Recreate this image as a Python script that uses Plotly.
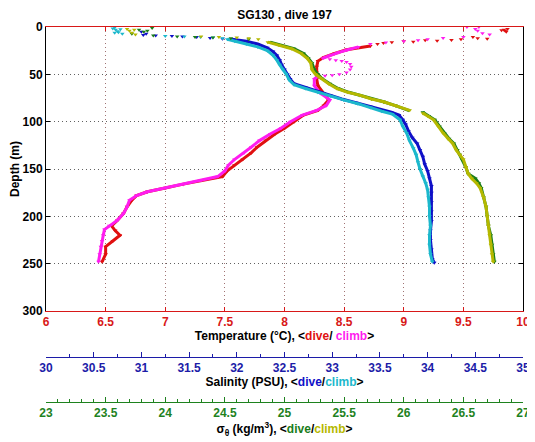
import plotly.graph_objects as go

# ---------------- data ----------------
# Temperature (degC) vs depth (m)
temp_dive_depth = [20, 24, 28, 32, 36, 42, 48, 55, 62, 70, 77, 83, 88, 93, 100, 107, 113,
                   120, 127, 133, 140, 146, 152, 158, 162, 166, 170, 174, 178, 183, 190, 197, 204, 210,
                   215, 220, 226, 232, 240, 248]
temp_dive_val = [8.72, 8.52, 8.42, 8.33, 8.28, 8.27, 8.27, 8.27, 8.28, 8.33, 8.37,
                 8.33, 8.28, 8.16, 8.08, 8.0, 7.92, 7.84, 7.77, 7.72, 7.65, 7.58, 7.52, 7.48, 7.3, 7.15,
                 7.0, 6.85, 6.76, 6.72, 6.68, 6.65, 6.6, 6.55, 6.58, 6.62, 6.56, 6.5, 6.5, 6.47]
temp_dive_dots_depth = [2, 3, 4, 5, 3.5, 10.5, 12, 13, 13.7, 14.5, 15.5, 15, 16, 17, 18, 12.5, 14]
temp_dive_dots_val = [9.87, 9.84, 9.85, 9.86, 9.82, 9.58, 9.62, 9.48, 9.4, 9.28, 9.08, 9.0, 8.9, 8.83,
                      8.78, 9.7, 9.18]

temp_climb_depth = [248, 240, 232, 226, 220, 214, 210, 204, 197, 190, 183, 178, 174, 170, 166, 162, 158,
                    152, 146, 140, 133, 127, 120, 113, 107, 100, 93, 88, 83, 77, 70, 62, 55, 52, None,
                    33, 30, 27, 24, 21]
temp_climb_val = [6.44, 6.45, 6.46, 6.47, 6.48, 6.49, 6.53, 6.6, 6.65, 6.68, 6.7, 6.76, 6.85, 7.0, 7.15,
                  7.3, 7.44, 7.5, 7.53, 7.58, 7.66, 7.72, 7.79, 7.88, 7.97, 8.05, 8.15, 8.27, 8.35, 8.38,
                  8.3, 8.25, 8.25, 8.28, None, 8.32, 8.38, 8.45, 8.53, 8.62]
temp_climb_dots_depth = [0, 0, 2, 4, 6.5, 8, 10.5, 11.6, 13, 14, 15, 16.5, 18, 34, 35, 36, 37, 39, 42,
                         45, 48, 50, 51, 51.5]
temp_climb_dots_val = [9.53, 9.63, 9.6, 9.62, 9.66, 9.72, 9.5, 9.33, 9.2, 9.12, 9.0, 8.85, 8.72, 8.38,
                       8.43, 8.48, 8.52, 8.55, 8.56, 8.55, 8.52, 8.46, 8.4, 8.34]

# Salinity (PSU) vs depth (m)
sal_dive_depth = [13, 15, 18, 22, 26, 30, 35, 40, 45, 50, 55, 60, 64, 68, 72, 76, 80, 84, 88, 90, 93, 98,
                  103, 110, 117, 123, 130, 137, 145, 152, 160, 168, 175, 185, 195, 205, 215, 225, 235,
                  245, 249]
sal_dive_val = [31.95, 32.1, 32.22, 32.32, 32.38, 32.42, 32.45, 32.47, 32.5, 32.53, 32.56, 32.6, 32.72,
                32.85, 32.98, 33.1, 33.25, 33.4, 33.52, 33.62, 33.7, 33.74, 33.77, 33.8, 33.84, 33.89,
                33.92, 33.95, 33.97, 34.0, 34.02, 34.04, 34.04, 34.04, 34.04, 34.04, 34.03, 34.03, 34.04,
                34.05, 34.07]
sal_dive_dots_depth = [5, 7, 8.5, 9, 9.5, 10, 10.5, 11.5, 12.5]
sal_dive_dots_val = [31.0, 31.05, 31.02, 31.15, 31.32, 31.43, 31.58, 31.72, 31.85]

sal_climb_depth = [248, 240, 230, 220, 210, 200, 190, 180, 172, 165, 158, 150, 143, 135, 128, 120, 112,
                   105, 98, 92, 89, 85, 81, 77, 73, 69, 65, 61, 56, 50, 45, 40, 35, 30, 25, 21, 18, 15, 13]
sal_climb_val = [34.05, 34.03, 34.02, 34.02, 34.03, 34.02, 34.02, 34.01, 34.0, 33.98, 33.95, 33.92,
                 33.9, 33.88, 33.85, 33.81, 33.78, 33.74, 33.71, 33.63, 33.52, 33.4, 33.27, 33.12, 32.98,
                 32.85, 32.72, 32.6, 32.55, 32.52, 32.48, 32.45, 32.42, 32.38, 32.32, 32.22, 32.1,
                 31.98, 31.9]
sal_climb_dots_depth = [0.5, 1.5, 3, 4.5, 6, 7, 2.5, 5.5, 9.5, 10, 10.5, 11, 12]
sal_climb_dots_val = [30.72, 30.7, 30.73, 30.75, 30.72, 30.8, 30.78, 30.76, 31.25, 31.45, 31.62, 31.75,
                      31.85]

# Potential density sigma-theta (kg/m3) vs depth (m)
sig_dive_depth = [16, 19, 23, 28, 33, 38, 45, 50, 54, 60, 65, 69, 72, 76, 79, 83, 88, None, 90, 94, 98,
                  105, 112, 118, 123, 130, 135, 140, 148, 155, 160, 165, 170, 180, 190, 200, 210, 220,
                  230, 240, 248]
sig_dive_val = [24.88, 24.96, 25.08, 25.16, 25.2, 25.23, 25.25, 25.28, 25.31, 25.38, 25.45, 25.54, 25.63,
                25.73, 25.83, 25.93, 26.04, None, 26.16, 26.21, 26.26, 26.3, 26.34, 26.38, 26.42, 26.45,
                26.47, 26.49, 26.52, 26.54, 26.6, 26.63, 26.65, 26.67, 26.69, 26.7, 26.71, 26.73, 26.74,
                26.75, 26.76]
sig_dive_dots_depth = [1, 3, 5, 7, 4, 9, 10, 10.5, 11, 12, 13]
sig_dive_dots_val = [23.89, 23.78, 23.82, 23.72, 23.85, 23.9, 24.1, 24.25, 24.4, 24.55, 24.7]

sig_climb_depth = [248, 240, 230, 220, 210, 200, 190, 180, 170, 165, 160, 155, 148, 140, 135, 130, 123,
                   118, 112, 105, 98, 94, 91, None, 88, 83, 79, 76, 72, 69, 65, 60, 54, 50, 45, 38, 33,
                   28, 23, 19, 16]
sig_climb_val = [26.75, 26.74, 26.73, 26.72, 26.71, 26.7, 26.69, 26.67, 26.64, 26.61, 26.57, 26.54,
                 26.52, 26.5, 26.47, 26.44, 26.41, 26.37, 26.33, 26.29, 26.25, 26.2, 26.16, None, 26.05,
                 25.93, 25.83, 25.73, 25.63, 25.53, 25.44, 25.37, 25.3, 25.26, 25.23, 25.22, 25.19,
                 25.14, 25.06, 24.95, 24.86]
sig_climb_dots_depth = [2, 4, 6, 8, 3, 10, 10.5, 11, 12, 13]
sig_climb_dots_val = [23.68, 23.7, 23.72, 23.75, 23.74, 24.3, 24.45, 24.6, 24.7, 24.78]

temp_ticks = [6, 6.5, 7, 7.5, 8, 8.5, 9, 9.5, 10]
sal_ticks = [30, 30.5, 31, 31.5, 32, 32.5, 33, 33.5, 34, 34.5, 35]
sig_ticks = [23, 23.5, 24, 24.5, 25, 25.5, 26, 26.5, 27]
depth_ticks = [0, 50, 100, 150, 200, 250, 300]

# ---------------- styling ----------------
FONT = "Liberation Sans"
RED = "#e01010"
MAGENTA = "#ff1cf0"
BLUE = "#1010c8"
CYAN = "#1cb8cc"
GREEN = "#1a7d1a"
YELLOW = "#b5b800"
AX_RED = "#d81818"
AX_BLUE = "#1c1ca8"
AX_GREEN = "#1e821e"

fig = go.Figure()


def add_profile(depth, val, color, xaxis):
    fig.add_trace(go.Scatter(x=val, y=depth, mode="lines+markers", xaxis=xaxis, yaxis="y",
                             line=dict(color=color, width=3),
                             marker=dict(color=color, size=4, symbol="triangle-down"),
                             connectgaps=False, showlegend=False, hoverinfo="skip"))


def add_dots(depth, val, color, xaxis):
    fig.add_trace(go.Scatter(x=val, y=depth, mode="markers", xaxis=xaxis, yaxis="y",
                             marker=dict(color=color, size=4, symbol="triangle-down"),
                             showlegend=False, hoverinfo="skip"))


add_profile(sal_dive_depth, sal_dive_val, BLUE, "x2")
add_dots(sal_dive_dots_depth, sal_dive_dots_val, BLUE, "x2")
add_profile(sal_climb_depth, sal_climb_val, CYAN, "x2")
add_dots(sal_climb_dots_depth, sal_climb_dots_val, CYAN, "x2")

add_profile(sig_dive_depth, sig_dive_val, GREEN, "x3")
add_dots(sig_dive_dots_depth, sig_dive_dots_val, GREEN, "x3")
add_profile(sig_climb_depth, sig_climb_val, YELLOW, "x3")
add_dots(sig_climb_dots_depth, sig_climb_dots_val, YELLOW, "x3")

add_profile(temp_dive_depth, temp_dive_val, RED, "x")
add_dots(temp_dive_dots_depth, temp_dive_dots_val, RED, "x")
add_profile(temp_climb_depth, temp_climb_val, MAGENTA, "x")
add_dots(temp_climb_dots_depth, temp_climb_dots_val, MAGENTA, "x")

# page body adds an 8px margin; the figure is sized to fit the window
OFF = 8
W, H = 535 - OFF, 442 - OFF
PLOT_L, PLOT_R, PLOT_T, PLOT_B = 46 - OFF, 523 - OFF, 27 - OFF, 311 - OFF
SAL_Y, SIG_Y = 357 - OFF, 402 - OFF
L, R, T, B = PLOT_L, W - PLOT_R, PLOT_T, H - SIG_Y
paper_h = H - T - B


def py(pix):
    return (H - B - pix) / paper_h


grid_dash = "1px,3px"

fig.update_layout(
    width=W, height=H,
    margin=dict(l=L, r=R, t=T, b=B, autoexpand=False),
    paper_bgcolor="white", plot_bgcolor="white",
    font=dict(family=FONT, size=12, color="black", weight="bold"),
    title=dict(text="SG130 , dive 197", x=0.5, xref="paper", xanchor="center",
               y=1 - 3 / H, yanchor="top", pad=dict(t=0, b=0),
               font=dict(family=FONT, size=12, color="black", weight="bold")),
    xaxis=dict(range=[6, 10], domain=[0, 1], anchor="y", side="bottom",
               tickvals=temp_ticks, ticktext=[f"{v:g}" for v in temp_ticks],
               ticks="inside", ticklen=4, tickcolor=AX_RED, tickwidth=1,
               showline=True, linecolor=AX_RED, linewidth=1, mirror="ticks",
               showgrid=True, gridcolor="rgba(150,100,100,0.9)", griddash=grid_dash, gridwidth=1,
               zeroline=False, automargin=False,
               tickfont=dict(family=FONT, size=12, color=AX_RED, weight="bold"),
               title=dict(text="Temperature (°C), &lt;<span style='color:" + RED + "'>dive</span>/ "
                               "<span style='color:" + MAGENTA + "'>climb</span>&gt;",
                          standoff=3, font=dict(family=FONT, size=12, color="black", weight="bold"))),
    xaxis2=dict(range=[30, 35], overlaying="x", anchor="free", position=py(SAL_Y), side="bottom",
                tickvals=sal_ticks, ticktext=[f"{v:g}" for v in sal_ticks],
                ticks="inside", ticklen=5, tickcolor=AX_BLUE, tickwidth=1,
                minor=dict(dtick=0.25, tick0=30, ticks="inside", ticklen=3, tickcolor=AX_BLUE,
                           showgrid=False),
                showline=True, linecolor=AX_BLUE, linewidth=1, showgrid=False, zeroline=False,
                automargin=False,
                tickfont=dict(family=FONT, size=12, color=AX_BLUE, weight="bold"),
                title=dict(text="Salinity (PSU), &lt;<span style='color:" + BLUE + "'>dive</span>/"
                                "<span style='color:" + CYAN + "'>climb</span>&gt;",
                           standoff=3, font=dict(family=FONT, size=12, color="black", weight="bold"))),
    xaxis3=dict(range=[23, 27], overlaying="x", anchor="free", position=py(SIG_Y), side="bottom",
                tickvals=sig_ticks, ticktext=[f"{v:g}" for v in sig_ticks],
                ticks="inside", ticklen=5, tickcolor=AX_GREEN, tickwidth=1,
                minor=dict(dtick=0.1, tick0=23, ticks="inside", ticklen=3, tickcolor=AX_GREEN,
                           showgrid=False),
                showline=True, linecolor=AX_GREEN, linewidth=1, showgrid=False, zeroline=False,
                automargin=False,
                tickfont=dict(family=FONT, size=12, color=AX_GREEN, weight="bold"),
                title=dict(text="σ<sub>θ</sub> (kg/m<sup>3</sup>), &lt;<span style='color:" + GREEN +
                                "'>dive</span>/<span style='color:" + YELLOW + "'>climb</span>&gt;",
                           standoff=3, font=dict(family=FONT, size=12, color="black", weight="bold"))),
    yaxis=dict(range=[300, 0], domain=[py(PLOT_B), 1], anchor="x",
               tickvals=depth_ticks, ticktext=[str(v) for v in depth_ticks],
               ticks="inside", ticklen=4, tickcolor="black",
               showline=True, linecolor="black", linewidth=1, mirror="ticks",
               showgrid=True, gridcolor="rgba(80,80,80,0.9)", griddash=grid_dash, gridwidth=1,
               zeroline=False, automargin=False,
               tickfont=dict(family=FONT, size=12, color="black", weight="bold"),
               title=dict(text="Depth (m)", standoff=6,
                          font=dict(family=FONT, size=12, color="black", weight="bold"))),
)

fig.write_html("out.html")
